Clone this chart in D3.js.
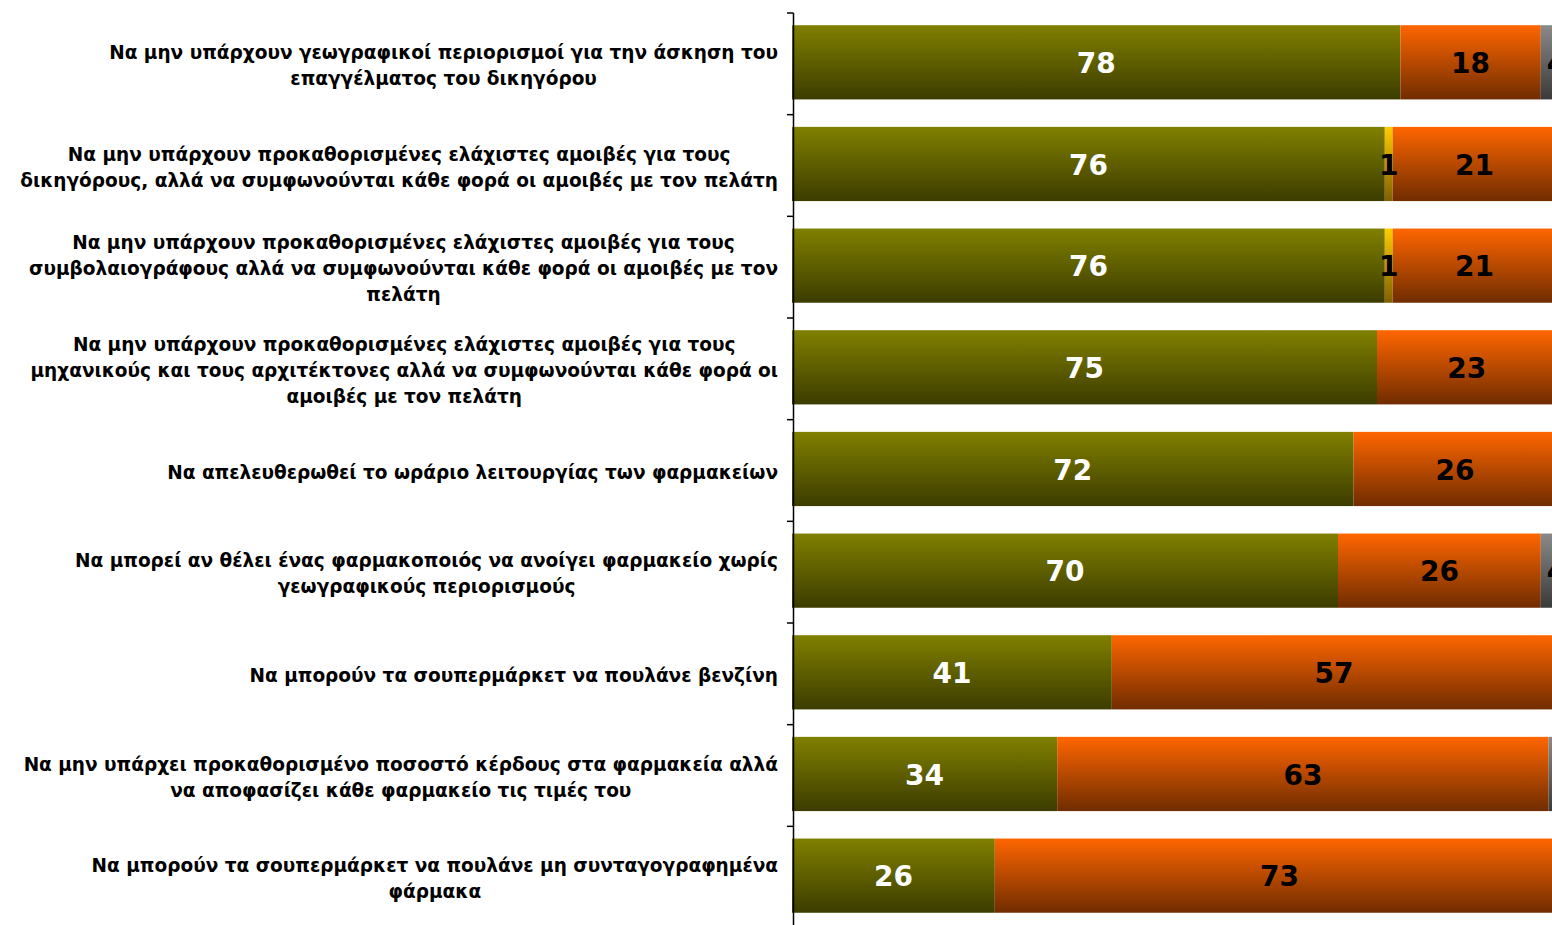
<!doctype html>
<html>
<head>
  <meta charset="UTF-8">
  <script src="https://d3js.org/d3.v7.min.js"></script>
  <style>
    body { margin: 0; background: #fff; }
    svg { display: block; font-family: "DejaVu Sans", Verdana, sans-serif; font-weight: bold; }
  </style>
</head>
<body>
<svg width="1552" height="925"></svg>
<script>

// category labels, one entry per line of text
const categories = [
  ["Να μην υπάρχουν γεωγραφικοί περιορισμοί για την άσκηση του", "επαγγέλματος του δικηγόρου"],
  ["Να μην υπάρχουν προκαθορισμένες ελάχιστες αμοιβές για τους", "δικηγόρους, αλλά να συμφωνούνται κάθε φορά οι αμοιβές με τον πελάτη"],
  ["Να μην υπάρχουν προκαθορισμένες ελάχιστες αμοιβές για τους", "συμβολαιογράφους αλλά να συμφωνούνται κάθε φορά οι αμοιβές με τον", "πελάτη"],
  ["Να μην υπάρχουν προκαθορισμένες ελάχιστες αμοιβές για τους", "μηχανικούς και τους αρχιτέκτονες αλλά να συμφωνούνται κάθε φορά οι", "αμοιβές με τον πελάτη"],
  ["Να απελευθερωθεί το ωράριο λειτουργίας των φαρμακείων"],
  ["Να μπορεί αν θέλει ένας φαρμακοποιός να ανοίγει φαρμακείο χωρίς", "γεωγραφικούς περιορισμούς"],
  ["Να μπορούν τα σουπερμάρκετ να πουλάνε βενζίνη"],
  ["Να μην υπάρχει προκαθορισμένο ποσοστό κέρδους στα φαρμακεία αλλά", "να αποφασίζει κάθε φαρμακείο τις τιμές του"],
  ["Να μπορούν τα σουπερμάρκετ να πουλάνε μη συνταγογραφημένα", "φάρμακα"]
];

const yes   = [78, 76, 76, 75, 72, 70, 41, 34, 26];
const maybe = [ 0,  1,  1,  0,  0,  0,  0,  0,  0];
const no    = [18, 21, 21, 23, 26, 26, 57, 63, 73];
const dk    = [ 4,  2,  2,  2,  2,  4,  2,  3,  1];

const topColors    = ["#808000", "#ffcc00", "#ff6600", "#8a8a8a"];
const bottomColors = ["#3c3c00", "#806000", "#702c00", "#3a3a3a"];
const labelColors  = ["#ffffff", "#000000", "#000000", "#000000"];

const svg = d3.select("svg");
const W = +svg.attr("width");

const rows = categories.map((c, i) => ({
  idx: i, lines: c, yes: yes[i], maybe: maybe[i], no: no[i], dk: dk[i]
}));
const keys = ["yes", "maybe", "no", "dk"];
const stacked = d3.stack().keys(keys)(rows);

const x = d3.scaleLinear().domain([0, 100]).range([792, 1572]);
const yb = d3.scaleBand().domain(d3.range(categories.length)).range([13, 928]);
const barH = yb.bandwidth() * 0.73;
const barOff = yb.bandwidth() * 0.12;

// gradients
const defs = svg.append("defs");
keys.forEach((k, j) => {
  const g = defs.append("linearGradient").attr("id", "grad" + j)
    .attr("x1", 0).attr("y1", 0).attr("x2", 0).attr("y2", 1);
  g.append("stop").attr("offset", "0%").attr("stop-color", topColors[j]);
  g.append("stop").attr("offset", "100%").attr("stop-color", bottomColors[j]);
});

// bars
const layer = svg.append("g").selectAll("g").data(stacked).enter().append("g")
  .attr("fill", (d, j) => "url(#grad" + j + ")");

layer.selectAll("rect").data(d => d).enter().append("rect")
  .attr("x", d => x(d[0]))
  .attr("y", (d, i) => yb(i) + barOff)
  .attr("width", d => x(d[1]) - x(d[0]))
  .attr("height", barH);

// value labels (skip the ones lying wholly past the right edge)
stacked.forEach((s, j) => {
  svg.append("g").selectAll("text")
    .data(s.filter(d => d[1] - d[0] > 0 && x(d[0]) < W))
    .enter().append("text")
    .attr("x", d => (x(d[0]) + x(d[1])) / 2)
    .attr("y", d => yb(d.data.idx) + barOff + barH / 2)
    .attr("dy", "0.38em")
    .attr("text-anchor", "middle")
    .attr("font-size", 28)
    .attr("fill", labelColors[j])
    .text(d => d[1] - d[0]);
});

// axis
const axis = svg.append("g").attr("stroke", "#000").attr("stroke-width", 1.5);
axis.append("line")
  .attr("x1", 793.5).attr("x2", 793.5)
  .attr("y1", yb.range()[0]).attr("y2", yb.range()[1]);
axis.selectAll(".tick").data(yb.domain()).enter().append("line")
  .attr("x1", 787).attr("x2", 793.5)
  .attr("y1", d => yb(d)).attr("y2", d => yb(d));

// category labels: centred lines, block right aligned
const lineH = 26;
rows.forEach(r => {
  const g = svg.append("g");
  const cy = yb(r.idx) + yb.bandwidth() / 2;
  const t = g.selectAll("text").data(r.lines).enter().append("text")
    .attr("y", (d, k) => cy + (k - (r.lines.length - 1) / 2) * lineH)
    .attr("dy", "0.45em")
    .attr("text-anchor", "middle")
    .attr("font-size", 18.5)
    .attr("fill", "#000")
    .text(d => d);
  let maxW = 0;
  t.each(function() { maxW = Math.max(maxW, this.getComputedTextLength()); });
  t.attr("x", 778 - maxW / 2);
});

</script>
</body>
</html>
